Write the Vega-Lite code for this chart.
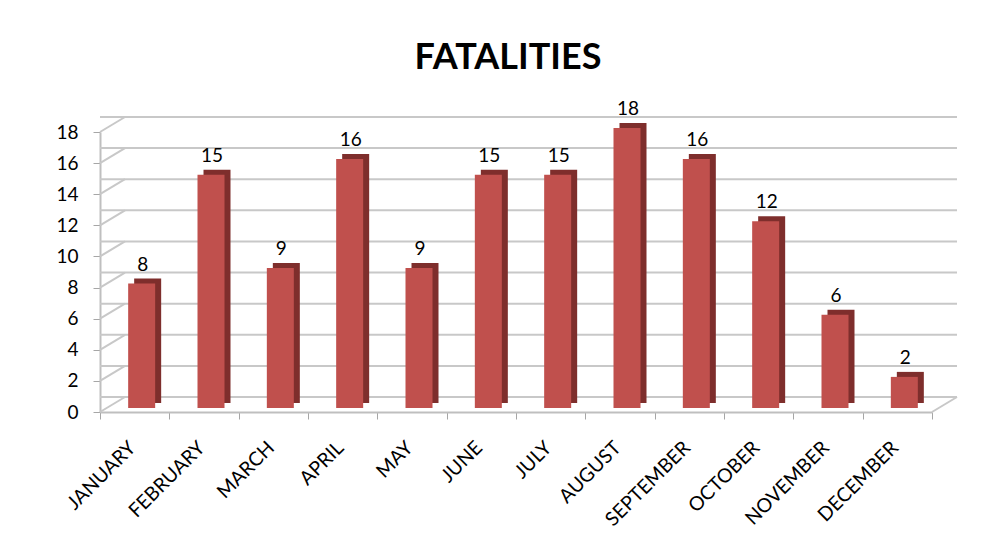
{
  "$schema": "https://vega.github.io/schema/vega-lite/v6.json",
  "width": 832,
  "height": 280,
  "autosize": "none",
  "padding": {"left": 100, "top": 132, "right": 73, "bottom": 140},
  "background": "white",
  "title": {"text": "FATALITIES", "font": "Lato", "fontSize": 36, "fontWeight": "bold", "color": "black", "anchor": "middle", "offset": 23, "dx": -8},
  "datasets": {
    "months": [
      {"month": "JANUARY", "fatalities": 8},
      {"month": "FEBRUARY", "fatalities": 15},
      {"month": "MARCH", "fatalities": 9},
      {"month": "APRIL", "fatalities": 16},
      {"month": "MAY", "fatalities": 9},
      {"month": "JUNE", "fatalities": 15},
      {"month": "JULY", "fatalities": 15},
      {"month": "AUGUST", "fatalities": 18},
      {"month": "SEPTEMBER", "fatalities": 16},
      {"month": "OCTOBER", "fatalities": 12},
      {"month": "NOVEMBER", "fatalities": 6},
      {"month": "DECEMBER", "fatalities": 2}
    ],
    "grid": [
      {"level": 0}, {"level": 2}, {"level": 4}, {"level": 6}, {"level": 8},
      {"level": 10}, {"level": 12}, {"level": 14}, {"level": 16}, {"level": 18}
    ],
    "floor": [{"level": 0}]
  },
  "layer": [
    {
      "data": {"name": "grid"},
      "mark": {"type": "rule", "color": "#C8C8C8", "strokeWidth": 2, "xOffset": 25, "yOffset": -15},
      "encoding": {
        "y": {"field": "level", "type": "quantitative", "scale": {"domain": [0, 18]}}
      }
    },
    {
      "data": {"name": "grid"},
      "mark": {"type": "rule", "color": "#C8C8C8", "strokeWidth": 2, "x2Offset": 25, "y2Offset": -15},
      "encoding": {
        "x": {"datum": "JANUARY", "bandPosition": 0, "type": "nominal", "scale": {"domain": ["JANUARY", "FEBRUARY", "MARCH", "APRIL", "MAY", "JUNE", "JULY", "AUGUST", "SEPTEMBER", "OCTOBER", "NOVEMBER", "DECEMBER"]}},
        "x2": {"datum": "JANUARY", "bandPosition": 0},
        "y": {"field": "level", "type": "quantitative"},
        "y2": {"field": "level"}
      }
    },
    {
      "data": {"name": "floor"},
      "mark": {"type": "rule", "color": "#C8C8C8", "strokeWidth": 2, "x2Offset": 25, "y2Offset": -15},
      "encoding": {
        "x": {"datum": "DECEMBER", "bandPosition": 1, "type": "nominal"},
        "x2": {"datum": "DECEMBER", "bandPosition": 1},
        "y": {"field": "level", "type": "quantitative"},
        "y2": {"field": "level"}
      }
    },
    {
      "data": {"name": "months"},
      "mark": {"type": "bar", "color": "#7E2E2C", "width": 27, "xOffset": 13, "yOffset": -9, "y2Offset": -9},
      "encoding": {
        "x": {"field": "month", "type": "nominal", "sort": null},
        "y": {"field": "fatalities", "type": "quantitative"}
      }
    },
    {
      "data": {"name": "months"},
      "mark": {"type": "bar", "color": "#C0504D", "width": 27, "xOffset": 7, "yOffset": -4, "y2Offset": -4},
      "encoding": {
        "x": {"field": "month", "type": "nominal", "sort": null},
        "y": {"field": "fatalities", "type": "quantitative"}
      }
    },
    {
      "data": {"name": "months"},
      "mark": {"type": "text", "font": "Lato", "fontSize": 19, "color": "black", "baseline": "bottom", "xOffset": 8, "yOffset": -13},
      "encoding": {
        "x": {"field": "month", "type": "nominal", "sort": null},
        "y": {"field": "fatalities", "type": "quantitative"},
        "text": {"field": "fatalities", "type": "quantitative"}
      }
    }
  ],
  "config": {
    "view": {"stroke": null},
    "scale": {"bandPaddingInner": 0, "bandPaddingOuter": 0},
    "axisX": {
      "title": null,
      "labelAngle": -45,
      "labelFont": "Lato",
      "labelFontSize": 19.5,
      "labelColor": "black",
      "labelPadding": 19,
      "labelOffset": -9,
      "tickBand": "extent",
      "tickSize": 7,
      "tickColor": "#A6A6A6",
      "domainColor": "#BFBFBF",
      "domainWidth": 2,
      "grid": false
    },
    "axisY": {
      "title": null,
      "values": [0, 2, 4, 6, 8, 10, 12, 14, 16, 18],
      "labelFont": "Lato",
      "labelFontSize": 19,
      "labelColor": "black",
      "labelPadding": 15,
      "tickSize": 7,
      "tickColor": "#A6A6A6",
      "domainColor": "#BFBFBF",
      "domainWidth": 2,
      "grid": false
    }
  }
}
